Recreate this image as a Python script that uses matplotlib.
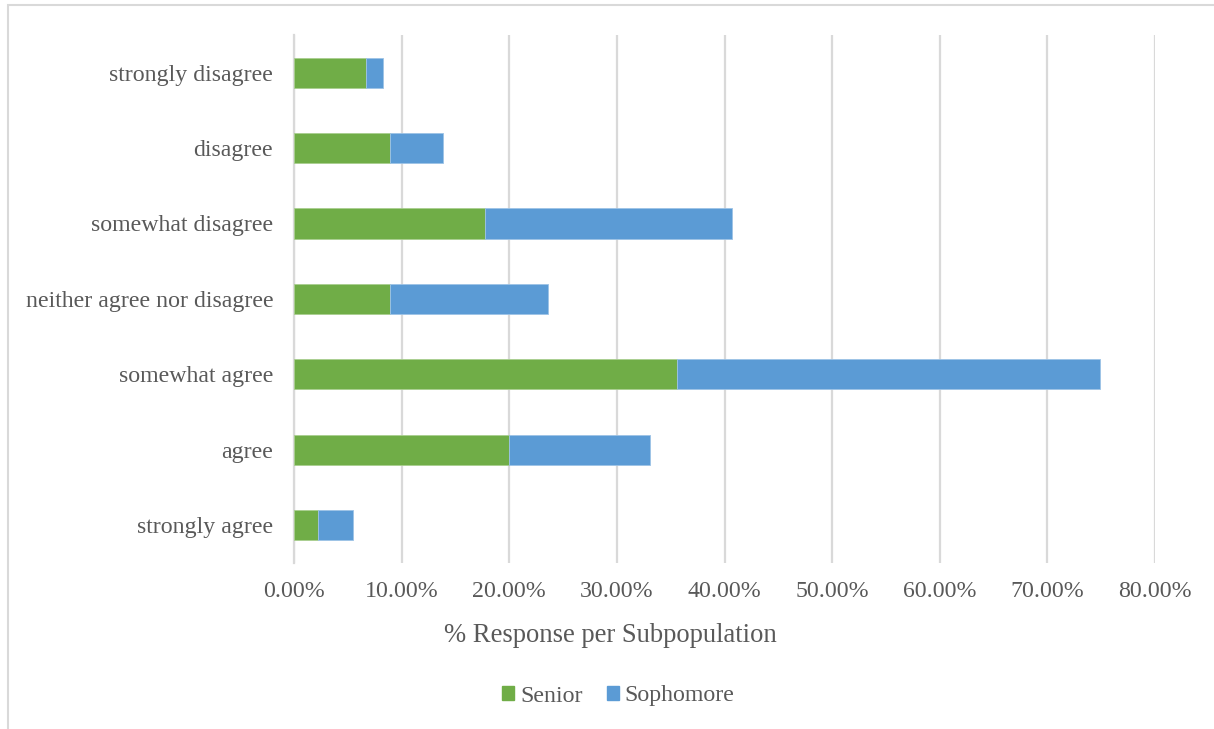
import matplotlib
matplotlib.use("Agg")
import matplotlib.pyplot as plt
from matplotlib.patches import Patch, Rectangle
from matplotlib.ticker import FuncFormatter

# Survey responses, percent of each subpopulation
categories = ["strongly agree", "agree", "somewhat agree",
              "neither agree nor disagree", "somewhat disagree",
              "disagree", "strongly disagree"]
senior = [2.22, 20.00, 35.56, 8.89, 17.78, 8.89, 6.67]
sophomore = [3.28, 13.11, 39.34, 14.75, 22.95, 4.92, 1.64]
series_names = ["Senior", "Sophomore"]
x_ticks = [0, 10, 20, 30, 40, 50, 60, 70, 80]

GREEN = "#70AD47"
BLUE = "#5B9BD5"
TEXT = "#595959"
GRID = "#D9D9D9"
FS = 17.2

plt.rcParams["font.family"] = ["Liberation Serif", "DejaVu Serif"]

W, H = 1214, 729
fig = plt.figure(figsize=(W / 100, H / 100), dpi=100)
fig.patch.set_facecolor("white")

# outer chart border (only left and top edges are in frame)
fig.add_artist(Rectangle((7.5 / W, -0.1), 1.2, (1 - 5.5 / H) + 0.1,
                         transform=fig.transFigure, fill=False,
                         edgecolor=GRID, linewidth=1.5))

left, right = 294 / W, 1155 / W
top, bottom = 1 - 35 / H, 1 - 562.7 / H
ax = fig.add_axes([left, bottom, right - left, top - bottom])

ypos = list(range(len(categories)))
ax.barh(ypos, senior, height=0.4, color=GREEN, edgecolor="#A9CF8F",
        linewidth=0.6, zorder=3, label=series_names[0])
ax.barh(ypos, sophomore, left=senior, height=0.4, color=BLUE,
        edgecolor="#9DC3E6", linewidth=0.6, zorder=3, label=series_names[1])

ax.set_xlim(0, 80)
ax.set_ylim(-0.5, len(categories) - 0.5)
ax.set_xticks(x_ticks)
ax.xaxis.set_major_formatter(FuncFormatter(lambda v, p: f"{v:.2f}%"))
ax.set_yticks(ypos)
ax.set_yticklabels(categories)

ax.grid(axis="x", color=GRID, linewidth=1.6, zorder=0)
for s in ["top", "right", "bottom"]:
    ax.spines[s].set_visible(False)
ax.spines["left"].set_color(GRID)
ax.spines["left"].set_linewidth(1.6)
ax.tick_params(axis="both", length=0, colors=TEXT, labelsize=FS)
ax.tick_params(axis="x", pad=13.5)
ax.tick_params(axis="y", pad=15)

fig.text(610 / W, 1 - 636 / H, "% Response per Subpopulation",
         ha="center", va="center", fontsize=19.2, color=TEXT)

handles = [Patch(facecolor=GREEN, edgecolor=GREEN),
           Patch(facecolor=BLUE, edgecolor=BLUE)]
leg = fig.legend(handles, series_names, loc="center",
                 bbox_to_anchor=(618.5 / W, 1 - 696 / H), ncol=2,
                 frameon=False, fontsize=FS, handlelength=0.5,
                 handleheight=0.5, handletextpad=0.25, columnspacing=1.0,
                 borderpad=0.2)
for t in leg.get_texts():
    t.set_color(TEXT)

fig.savefig("out.png", dpi=100, facecolor="white")
